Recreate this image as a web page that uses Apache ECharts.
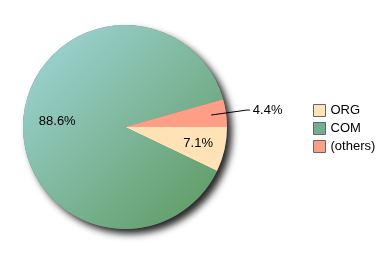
<!DOCTYPE html>
<html><head><meta charset="utf-8">
<script src="https://cdn.jsdelivr.net/npm/echarts@6/dist/echarts.min.js"></script>
<style>html,body{margin:0;padding:0;background:#fff}#c{width:384px;height:256px}</style>
</head><body><div id="c"></div>
<script>
const categories = ['ORG', 'COM', '(others)'];
const values = [7.1, 88.6, 4.4];
const colors = ['#FFE3B6', null, '#FF9E86'];
const legendColors = ['#FFE3B6', '#72AF92', '#FF9E86'];

const center = [125, 127];
const R = 102;
const comGradient = new echarts.graphic.LinearGradient(22, 25, 227, 230, [
  {offset: 0, color: '#A2D8DE'},
  {offset: 1, color: '#5A965A'}
], true);

const mainData = categories.map((n, i) => ({
  name: n, value: values[i],
  itemStyle: {color: i === 1 ? comGradient : colors[i]}
}));
const fontFam = '"Liberation Sans", Arial, sans-serif';

function insideOverlay(radius, showIdx) {
  return {
    type: 'pie', silent: true, center, radius: [0, radius], z: 3,
    startAngle: 0, clockwise: true,
    itemStyle: {color: 'rgba(0,0,0,0)'},
    labelLine: {show: false},
    data: categories.map((n, i) => ({
      name: n, value: values[i],
      label: {show: i === showIdx, position: 'inside', fontFamily: fontFam, fontSize: 13, color: '#000',
        formatter: p => values[p.dataIndex].toFixed(1) + '%'}
    }))
  };
}

const chart = echarts.init(document.getElementById('c'), null, {renderer: 'canvas'});
chart.setOption({
  animation: false,
  backgroundColor: '#fff',
  legend: {
    orient: 'vertical', left: 313, top: 104, padding: 0,
    itemWidth: 12, itemHeight: 12, itemGap: 5,
    icon: 'rect',
    textStyle: {fontFamily: fontFam, fontSize: 13, color: '#000'},
    data: categories.map((n, i) => ({name: n, itemStyle: {color: legendColors[i], borderColor: '#666', borderWidth: 1}}))
  },
  series: [
    {
      type: 'pie', silent: true, center, radius: [0, R], z: 1,
      label: {show: false}, labelLine: {show: false},
      data: [{name: 'shadow', value: 1, itemStyle: {color: '#777', shadowBlur: 7, shadowOffsetX: 5, shadowOffsetY: 5, shadowColor: 'rgba(0,0,0,0.85)'}}],
      legendHoverLink: false
    },
    {
      type: 'pie', center, radius: [0, R], z: 2,
      startAngle: 0, clockwise: true,
      label: {show: false}, labelLine: {show: false},
      itemStyle: {borderWidth: 0},
      data: mainData
    },
    insideOverlay(144, 0),
    insideOverlay(130, 1),
    {
      type: 'pie', silent: true, center, radius: [0, 87], z: 3,
      startAngle: 0, clockwise: true, avoidLabelOverlap: false,
      itemStyle: {color: 'rgba(0,0,0,0)'},
      data: categories.map((n, i) => ({
        name: n, value: values[i],
        label: {show: i === 2, position: 'outside', fontFamily: fontFam, fontSize: 13, color: '#000', distanceToLabelLine: 3,
          formatter: p => values[p.dataIndex].toFixed(1) + '%'},
        labelLine: {show: i === 2, length: 36, length2: 3, lineStyle: {color: '#000', width: 1}}
      }))
    }
  ]
});
</script></body></html>
